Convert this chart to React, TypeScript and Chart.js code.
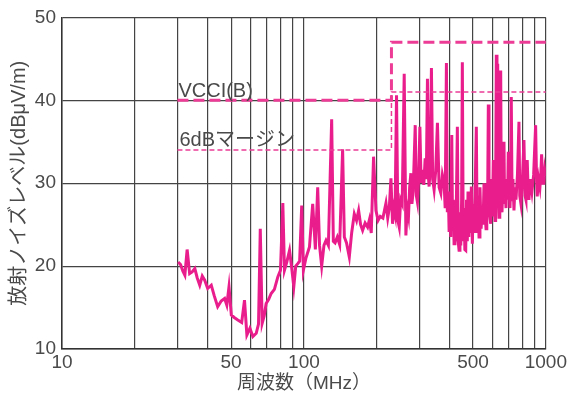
import React, { useEffect, useRef } from "react";
import { Chart, registerables } from "chart.js";

Chart.register(...registerables);

const noiseFreq = [
  30.2, 30.9, 31.6, 32.2, 32.9, 33.7, 34.5, 35.4, 36.2, 37.1, 38.0, 38.9, 40.0, 41.4, 42.6, 44.0, 45.5, 47.0, 48.0, 49.0,
  50.1, 51.5, 53.3, 55.3, 56.8, 58.1, 59.8, 61.5, 63.5, 64.9, 66.0, 67.2, 68.5, 69.8, 71.5, 73.2, 75.5, 78.0, 80.0, 81.8,
  83.1, 85.0, 87.2, 89.0, 90.8, 92.5, 94.3, 96.0, 97.9, 99.5, 102.0, 105.4, 108.7, 111.5, 114.0, 116.0, 118.4, 121.0, 123.4, 126.2,
  130.2, 132.3, 134.5, 137.4, 140.5, 144.5, 146.9, 150.0, 154.0, 157.5, 161.5, 165.0, 168.3, 171.5, 174.8, 179.0, 183.3, 186.5, 189.8, 194.0,
  198.5, 202.5, 206.8, 212.0, 218.3, 222.0, 225.3, 228.9, 232.4, 235.0, 238.0, 241.4, 244.5, 247.7, 251.0, 254.8, 259.7, 263.9, 267.0, 270.5,
  273.5, 276.7, 279.5, 282.8, 288.4, 291.5, 294.6, 298.0, 301.5, 305.0, 309.0, 313.0, 317.0, 320.5, 324.0, 326.5, 329.2, 332.5, 336.5, 340.5,
  345.2, 350.5, 356.3, 362.0, 368.0, 373.5, 379.7, 383.5, 388.1, 391.5, 395.0, 398.1, 401.5, 404.5, 408.4, 411.5, 414.5, 417.4, 421.0, 424.5,
  427.5, 430.7, 434.0, 437.7, 441.5, 445.0, 448.5, 451.6, 455.5, 459.0, 462.5, 466.4, 470.0, 473.5, 476.7, 480.0, 484.0, 488.0, 492.0, 496.7,
  501.0, 505.5, 510.0, 515.9, 520.0, 524.5, 529.3, 534.0, 540.0, 545.0, 550.0, 555.1, 560.0, 565.8, 570.0, 574.0, 578.3, 582.0, 586.5, 591.6,
  596.0, 601.0, 606.4, 611.0, 616.3, 620.0, 624.0, 628.0, 632.3, 636.0, 640.2, 645.0, 650.6, 654.5, 658.7, 665.0, 671.3, 675.0, 679.0, 684.2,
  690.0, 695.0, 699.3, 705.0, 710.6, 715.0, 719.5, 725.0, 731.0, 738.2, 745.0, 752.4, 763.0, 774.1, 780.0, 788.9, 800.0, 811.7, 820.0, 827.2,
  837.5, 844.0, 851.2, 863.0, 875.9, 890.0, 907.1, 915.0, 921.0, 933.0, 944.9, 953.0, 960.3, 970.0, 981.4, 990.0, 997.3,
];

const noiseLevel = [
  20.5, 20.2, 19.4, 18.9, 22.0, 19.1, 19.3, 19.7, 18.6, 17.7, 18.8, 18.3, 17.3, 17.7, 16.4, 15.1, 15.8, 16.1, 15.3, 17.5,
  14.1, 13.8, 13.5, 13.2, 15.9, 11.7, 12.5, 11.5, 11.9, 13.0, 24.5, 13.1, 14.0, 15.5, 16.0, 16.7, 17.2, 18.7, 19.5, 27.6,
  19.5, 20.5, 21.9, 19.8, 17.5, 20.0, 20.3, 20.6, 27.3, 19.5, 21.0, 22.3, 27.5, 22.0, 29.5, 22.5, 20.0, 22.5, 23.1, 22.5,
  37.7, 23.0, 22.8, 23.5, 22.6, 34.1, 23.5, 22.8, 21.1, 24.0, 26.3, 25.5, 26.7, 25.0, 24.3, 25.2, 24.7, 25.6, 24.0, 33.2,
  26.7, 25.5, 26.0, 25.8, 27.6, 25.8, 27.0, 30.6, 25.1, 27.0, 26.2, 40.6, 25.5, 24.7, 28.0, 27.5, 43.2, 23.7, 27.0, 26.0,
  29.5, 31.2, 27.5, 29.0, 37.0, 28.5, 27.7, 30.5, 36.8, 30.0, 31.6, 29.8, 33.0, 30.5, 42.6, 31.0, 29.6, 32.0, 43.9, 30.5,
  29.2, 31.5, 37.3, 29.5, 28.8, 31.0, 30.0, 27.0, 44.5, 26.5, 29.0, 24.3, 28.5, 23.5, 35.8, 24.5, 28.0, 22.7, 27.5, 23.0,
  29.5, 36.8, 23.0, 21.9, 26.5, 22.5, 28.0, 44.6, 23.0, 27.0, 22.0, 21.9, 28.0, 23.0, 29.0, 23.5, 28.5, 24.0, 29.6, 22.7,
  27.5, 24.0, 29.0, 36.8, 24.0, 28.5, 23.5, 29.5, 24.5, 27.0, 25.0, 30.0, 26.5, 24.5, 29.0, 26.0, 39.5, 27.5, 26.0, 25.1,
  30.5, 26.0, 32.8, 28.0, 25.5, 29.0, 45.5, 27.5, 44.4, 28.0, 25.9, 30.0, 43.6, 27.0, 26.5, 30.5, 35.0, 27.5, 29.5, 27.0,
  30.5, 28.0, 33.8, 29.0, 27.0, 30.0, 40.4, 28.0, 30.5, 26.7, 29.5, 28.0, 31.0, 37.4, 28.5, 27.5, 30.5, 35.2, 28.5, 28.0,
  32.8, 29.5, 28.0, 30.5, 29.0, 31.0, 37.0, 30.5, 28.4, 30.5, 29.5, 31.0, 33.5, 30.0, 30.0, 31.5, 30.8,
];

const limitFreq = [30, 230, 230, 1000];
const vcciLevel = [40, 40, 47, 47];
const marginLevel = [34, 34, 41, 41];

const gridFreqs = [10, 20, 30, 40, 50, 60, 70, 80, 90, 100, 200, 300, 400, 500, 600, 700, 800, 900, 1000];
const xLabels = [10, 50, 100, 500, 1000];
const yTicks = [10, 20, 30, 40, 50];

const FONT = "'Liberation Sans', 'Noto Sans CJK JP', sans-serif";
const PINK = "rgb(233, 30, 140)";
const PINK_LIMIT = "rgb(236, 60, 150)";
const TEXT = "#4a4a4a";

const labelPlugin = {
  id: "limitLabels",
  afterDatasetsDraw(chart: any) {
    const { ctx, scales } = chart;
    const x = scales.x.getPixelForValue(30);
    ctx.save();
    ctx.fillStyle = TEXT;
    ctx.font = `20px ${FONT}`;
    ctx.textAlign = "left";
    ctx.textBaseline = "alphabetic";
    ctx.fillText("VCCI(B)", x + 1, scales.y.getPixelForValue(40) - 3);
    ctx.fillText("6dBマージン", x + 2, scales.y.getPixelForValue(34) - 4);
    ctx.restore();
  },
};

export default function App() {
  const ref = useRef<HTMLCanvasElement>(null);
  useEffect(() => {
    document.body.style.margin = "0";
    const canvas = ref.current!;
    const chart = new Chart(canvas, {
      type: "line",
      data: {
        datasets: [
          {
            label: "VCCI(B)",
            data: limitFreq.map((f, i) => ({ x: f, y: vcciLevel[i] })),
            borderColor: PINK_LIMIT,
            borderWidth: 3,
            borderDash: [11, 5],
            pointRadius: 0,
            fill: false,
            tension: 0,
          },
          {
            label: "6dBマージン",
            data: limitFreq.map((f, i) => ({ x: f, y: marginLevel[i] })),
            borderColor: PINK_LIMIT,
            borderWidth: 1.5,
            borderDash: [5, 3],
            pointRadius: 0,
            fill: false,
            tension: 0,
          },
          {
            label: "noise",
            data: noiseFreq.map((f, i) => ({ x: f, y: noiseLevel[i] })),
            borderColor: PINK,
            borderWidth: 3,
            pointRadius: 0,
            fill: false,
            tension: 0,
            borderJoinStyle: "miter",
          },
        ],
      },
      options: {
        animation: false,
        responsive: false,
        maintainAspectRatio: false,
        layout: { padding: { top: 17, right: 22, left: 0, bottom: 0 } },
        plugins: { legend: { display: false }, tooltip: { enabled: false } },
        scales: {
          x: {
            type: "logarithmic",
            min: 10,
            max: 1000,
            afterBuildTicks: (s: any) => {
              s.ticks = gridFreqs.map((v) => ({ value: v }));
            },
            afterFit: (s: any) => {
              s.height = 46;
            },
            ticks: {
              autoSkip: false,
              maxRotation: 0,
              padding: 2,
              color: TEXT,
              font: { family: FONT, size: 19 },
              callback: (v: any) => (xLabels.includes(Number(v)) ? String(v) : ""),
            },
            grid: { color: "#444", lineWidth: 1.2, drawTicks: false },
            border: { color: "#333", width: 1.5 },
            title: {
              display: true,
              text: "周波数（MHz）",
              color: TEXT,
              font: { family: FONT, size: 19 },
              padding: { top: 2, bottom: 0 },
            },
          },
          y: {
            type: "linear",
            min: 10,
            max: 50,
            afterBuildTicks: (s: any) => {
              s.ticks = yTicks.map((v) => ({ value: v }));
            },
            afterFit: (s: any) => {
              s.width = 62;
            },
            ticks: {
              padding: 6,
              color: TEXT,
              font: { family: FONT, size: 19 },
            },
            grid: { color: "#444", lineWidth: 1.2, drawTicks: false },
            border: { color: "#333", width: 1.5 },
            title: {
              display: true,
              text: "放射ノイズレベル(dBμV/m)",
              color: TEXT,
              font: { family: FONT, size: 20 },
              padding: { top: 7, bottom: 0 },
            },
          },
        },
      },
      plugins: [labelPlugin],
    });
    return () => chart.destroy();
  }, []);
  return <canvas ref={ref} width={569} height={395} style={{ display: "block" }} />;
}
